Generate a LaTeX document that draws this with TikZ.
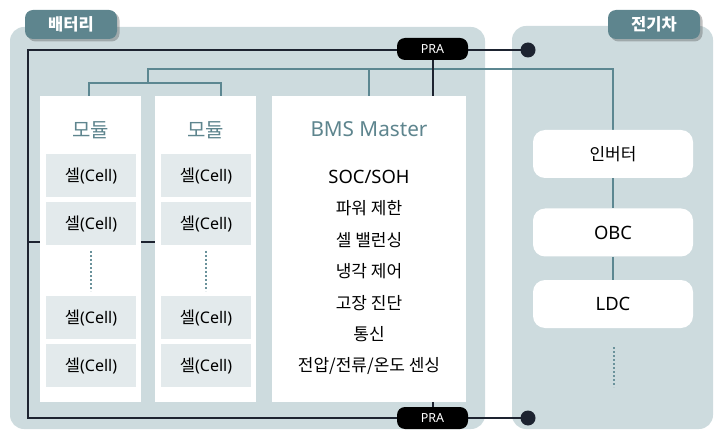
\documentclass[tikz,border=0pt]{standalone}
\usepackage{fontspec}
\setmainfont{Noto Sans CJK KR}
\newfontfamily\lat{Noto Sans}
\usetikzlibrary{shadows}
\definecolor{panelc}{HTML}{CDDBDE}
\definecolor{tabc}{HTML}{5E858E}
\definecolor{tealc}{HTML}{5C8791}
\definecolor{linek}{HTML}{1D2330}
\definecolor{cellc}{HTML}{E3EAEC}
\definecolor{dotc}{HTML}{6A929B}
\pgfdeclarelayer{bg}
\pgfdeclarelayer{lines}
\pgfsetlayers{bg,lines,main}
\tikzset{
  panelbox/.style={fill=panelc, rounded corners=14pt},
  tabbox/.style={fill=tabc, rounded corners=8pt, text=white, minimum width=92pt, minimum height=29pt, inner sep=0pt,
    font=\bfseries\fontsize{16.5}{19}\selectfont,
    drop shadow={shadow xshift=2.5pt, shadow yshift=-2.5pt, opacity=0.35, fill=black!70}},
  modbox/.style={fill=white, minimum width=101pt, minimum height=306pt, inner sep=0pt},
  modtitle/.style={text=tabc, font=\fontsize{20}{24}\selectfont, inner sep=0pt},
  cellbox/.style={fill=cellc, minimum width=90pt, minimum height=43pt, inner sep=0pt, font=\fontsize{16.5}{19}\selectfont},
  devbox/.style={fill=white, rounded corners=12pt, minimum width=160pt, minimum height=48pt, inner sep=0pt, font=\fontsize{17}{20}\selectfont},
  prabox/.style={fill=black, rounded corners=8pt, text=white, minimum width=71pt, minimum height=22pt, inner sep=0pt, font=\lat\fontsize{12.5}{15}\selectfont},
  dotnode/.style={circle, fill=linek, minimum size=15pt, inner sep=0pt},
  tealline/.style={draw=tealc, line width=1.6pt},
  blackline/.style={draw=linek, line width=2pt},
  dotline/.style={draw=dotc, line width=2.2pt, dash pattern=on 2pt off 2pt},
  itemtext/.style={inner sep=0pt, font=\fontsize{17}{20}\selectfont}
}
\newcommand\cellt{셀{\lat\fontsize{16}{19}\selectfont(Cell)}}
\begin{document}
\begin{tikzpicture}[x=1pt,y=-1pt]
\useasboundingbox (0,0) rectangle (717,430);
% panels
\begin{pgfonlayer}{bg}
\path[panelbox] (10,27) rectangle (485,429);
\path[panelbox] (512,26) rectangle (713,429);
\end{pgfonlayer}
% tabs
\node[tabbox] (tabB) at (71,24.5) {배터리};
\node[tabbox] (tabE) at (654,24.5) {전기차};
% modules
\node[modbox] (m1) at (90.5,249) {};
\node[modbox] (m2) at (205.5,249) {};
\node[modbox, minimum width=194pt] (bms) at (369,249) {};
\node[modtitle] (m1t) at (90.5,130) {모듈};
\node[modtitle] (m2t) at (205.5,130) {모듈};
\node[text=tabc, inner sep=0pt, font=\lat\fontsize{20.7}{24}\selectfont] (bmst) at (369,129) {BMS Master};
% cells
\node[cellbox] (c11) at (91,175.5) {\cellt};
\node[cellbox] (c12) at (91,223.5) {\cellt};
\node[cellbox] (c13) at (91,317.5) {\cellt};
\node[cellbox] (c14) at (91,365.5) {\cellt};
\node[cellbox] (c21) at (206,175.5) {\cellt};
\node[cellbox] (c22) at (206,223.5) {\cellt};
\node[cellbox] (c23) at (206,317.5) {\cellt};
\node[cellbox] (c24) at (206,365.5) {\cellt};
\coordinate (d1a) at (91,251); \coordinate (d1b) at (91,291);
\coordinate (d2a) at (206,251); \coordinate (d2b) at (206,291);
\draw[dotline] (d1a) -- (d1b);
\draw[dotline] (d2a) -- (d2b);
% BMS items
\node[itemtext, font=\lat\fontsize{18.4}{22}\selectfont] (i1) at (369,177) {SOC/SOH};
\node[itemtext] (i2) at (369,208.5) {파워 제한};
\node[itemtext] (i3) at (369,240) {셀 밸런싱};
\node[itemtext] (i4) at (369,271.5) {냉각 제어};
\node[itemtext] (i5) at (369,303) {고장 진단};
\node[itemtext] (i6) at (369,334) {통신};
\node[itemtext] (i7) at (369,365.5) {전압/전류/온도 센싱};
% vehicle devices
\node[devbox] (inv) at (613,154) {인버터};
\node[devbox, font=\lat\fontsize{18.4}{22}\selectfont] (obc) at (613,232.5) {OBC};
\node[devbox, font=\lat\fontsize{18.4}{22}\selectfont] (ldc) at (613,304) {LDC};
\coordinate (d3a) at (614,347); \coordinate (d3b) at (614,387);
\draw[dotline] (d3a) -- (d3b);
% PRA and terminals
\node[prabox] (praT) at (432.5,49) {PRA};
\node[prabox] (praB) at (432.5,418) {PRA};
\node[dotnode] (dotT) at (528,50) {};
\node[dotnode] (dotB) at (528,418) {};
% connectors
\coordinate (tl) at (28,50);
\coordinate (bl) at (28,418);
\coordinate (ml) at (28,242);
\coordinate (t1) at (148,83);
\coordinate (t2) at (148,69);
\begin{pgfonlayer}{lines}
\draw[tealline] ([xshift=-1.5pt]m1.north) -- ++(0,-13) -| ([xshift=15.5pt]m2.north);
\draw[tealline] (t1) -- (t2) -| (inv.north);
\draw[tealline] (bms.north) -- (bms.north |- t2);
\draw[tealline] (inv.south) -- (obc.north);
\draw[tealline] (obc.south) -- (ldc.north);
\draw[blackline] (dotT.center) -- (tl) -- (bl) -- (dotB.center);
\draw[blackline] (ml) -- (ml -| m2.west);
\draw[blackline] (praT.south) -- (praT.south |- bms.north);
\draw[blackline] (praB.north) -- (praB.north |- bms.south);
\end{pgfonlayer}
\end{tikzpicture}
\end{document}
